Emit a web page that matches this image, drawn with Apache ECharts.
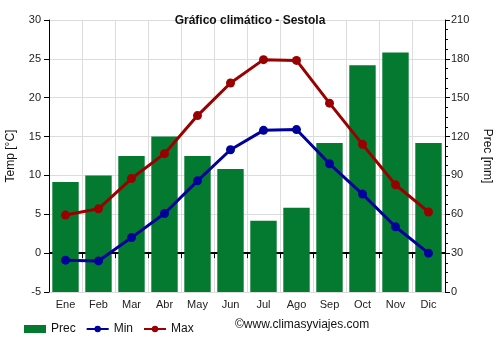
<!DOCTYPE html>
<html>
<head>
<meta charset="utf-8">
<script src="https://cdn.jsdelivr.net/npm/echarts@6/dist/echarts.min.js"></script>
<style>
  html, body { margin: 0; padding: 0; background: #fff; }
  #chart { width: 500px; height: 350px; }
</style>
</head>
<body>
<div id="chart"></div>
<script>
// Monthly climate data for Sestola
var months = ['Ene', 'Feb', 'Mar', 'Abr', 'May', 'Jun', 'Jul', 'Ago', 'Sep', 'Oct', 'Nov', 'Dic'];
var precMm = [85, 90, 105, 120, 105, 95, 55, 65, 115, 175, 185, 115];
var tempMin = [-0.9, -1.0, 2.0, 5.1, 9.3, 13.3, 15.8, 15.9, 11.5, 7.6, 3.4, 0.0];
var tempMax = [4.9, 5.7, 9.6, 12.8, 17.7, 21.9, 24.9, 24.8, 19.3, 14.0, 8.8, 5.3];

var FONT = 'Liberation Sans, Arial, sans-serif';
var GREEN = '#037a2f';
var BLUE = '#00009c';
var RED = '#9b0000';

var chart = echarts.init(document.getElementById('chart'), null, { renderer: 'canvas' });

chart.setOption({
  animation: false,
  textStyle: { fontFamily: FONT },
  title: {
    text: 'Gráfico climático - Sestola',
    left: 'center',
    top: 10,
    textStyle: { fontFamily: FONT, fontSize: 12, fontWeight: 'bold', color: '#111' }
  },
  grid: { left: 49, right: 55, top: 20, bottom: 58, containLabel: false, outerBoundsMode: 'none' },
  legend: {
    left: 19,
    top: 318,
    itemWidth: 22,
    itemHeight: 8,
    itemGap: 10,
    textStyle: { fontFamily: FONT, fontSize: 12, color: '#111' },
    data: [
      { name: 'Prec', icon: 'rect' },
      { name: 'Min' },
      { name: 'Max' }
    ]
  },
  graphic: [{
    type: 'text',
    left: 235,
    top: 319,
    style: { text: '©www.climasyviajes.com', font: '12px ' + FONT, fill: '#111' }
  }],
  xAxis: {
    type: 'category',
    data: months,
    boundaryGap: true,
    axisLine: { lineStyle: { color: '#000', width: 1 } },
    axisTick: { show: true, alignWithLabel: false, length: 5, lineStyle: { color: '#000' } },
    axisLabel: { fontFamily: FONT, fontSize: 11, color: '#222', margin: 7 },
    splitLine: { show: true, lineStyle: { color: '#dcdcdc', width: 1 } }
  },
  yAxis: [{
    type: 'value',
    min: -5, max: 30, interval: 5,
    name: 'Temp [°C]',
    nameLocation: 'middle',
    nameGap: 32,
    nameTextStyle: { fontFamily: FONT, fontSize: 12, color: '#111' },
    axisLine: { show: true, lineStyle: { color: '#000' } },
    axisTick: { show: true, length: 5, lineStyle: { color: '#000' } },
    axisLabel: { fontFamily: FONT, fontSize: 11, color: '#222', margin: 8 },
    splitLine: { show: true, lineStyle: { color: '#dcdcdc', width: 1 } }
  }, {
    type: 'value',
    min: 0, max: 210, interval: 30,
    name: 'Prec [mm]',
    nameLocation: 'middle',
    nameGap: 36,
    nameRotate: -90,
    nameTextStyle: { fontFamily: FONT, fontSize: 12, color: '#111' },
    position: 'right',
    axisLine: { show: true, lineStyle: { color: '#000' } },
    axisTick: { show: true, length: 5, lineStyle: { color: '#000' } },
    minorTick: { show: true, splitNumber: 4, length: 3, lineStyle: { color: '#000' } },
    axisLabel: { fontFamily: FONT, fontSize: 11, color: '#222', margin: 6 },
    splitLine: { show: false }
  }],
  series: [{
    // zero-degree reference line, kept beneath the bars
    name: 'zero',
    type: 'line',
    yAxisIndex: 0,
    data: [],
    z: 1,
    silent: true,
    markLine: {
      z: 1,
      silent: true,
      symbol: 'none',
      label: { show: false },
      lineStyle: { color: '#000', width: 2, type: 'solid' },
      data: [{ yAxis: 0 }]
    }
  }, {
    name: 'Prec',
    type: 'bar',
    yAxisIndex: 1,
    data: precMm,
    barCategoryGap: '20%',
    itemStyle: { color: GREEN },
    z: 2
  }, {
    name: 'Min',
    type: 'line',
    yAxisIndex: 0,
    data: tempMin,
    symbol: 'circle',
    symbolSize: 9,
    lineStyle: { color: BLUE, width: 3 },
    itemStyle: { color: BLUE },
    z: 3
  }, {
    name: 'Max',
    type: 'line',
    yAxisIndex: 0,
    data: tempMax,
    symbol: 'circle',
    symbolSize: 9,
    lineStyle: { color: RED, width: 3 },
    itemStyle: { color: RED },
    z: 4
  }]
});
</script>
</body>
</html>
